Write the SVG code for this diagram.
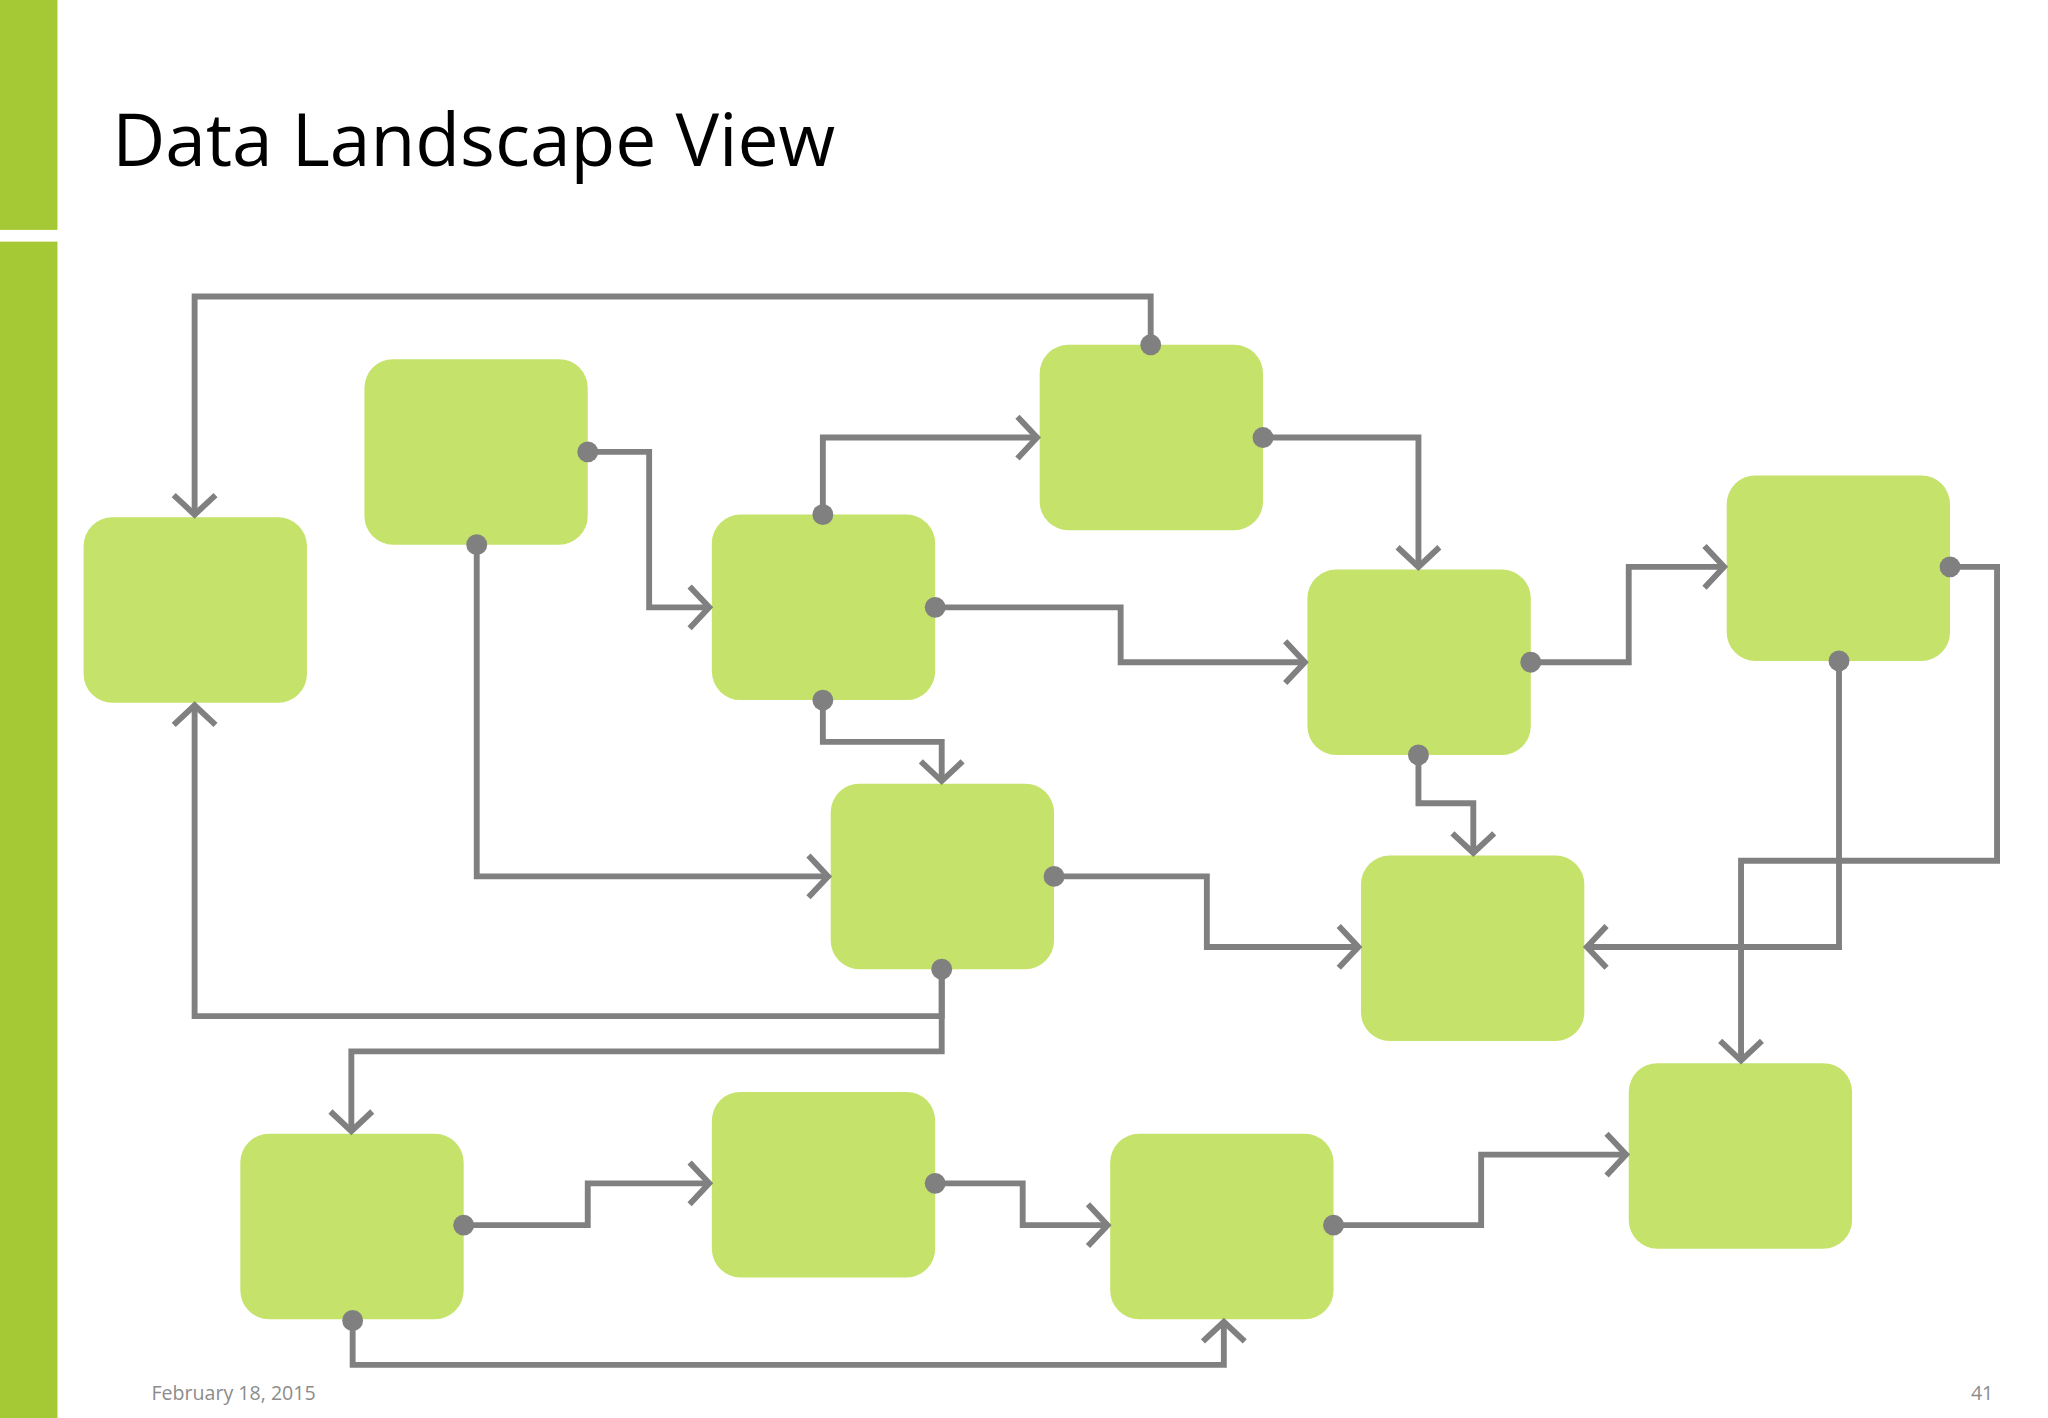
<svg xmlns="http://www.w3.org/2000/svg" width="2048" height="1418" viewBox="0 0 2048 1418">
<style>
.n{fill:#C5E26A}
.c{fill:none;stroke:#808080;stroke-width:4.5;stroke-linejoin:miter;marker-end:url(#ah)}
.d{fill:#808080}
.t{font-family:"Open Sans","Noto Sans",sans-serif}
</style>
<defs>
<marker id="ah" markerUnits="userSpaceOnUse" viewBox="-20 -20 24 40" markerWidth="24" markerHeight="40" refX="0" refY="0" orient="auto">
<path d="M-15,-16 L0,0 L-15,16" fill="none" stroke="#808080" stroke-width="4.5"/>
</marker>
</defs>
<rect width="2048" height="1418" fill="#fff"/>
<g transform="scale(1.30612)">
<rect x="0" y="0" width="44" height="176" fill="#A5C934"/>
<rect x="0" y="185" width="44" height="901" fill="#A5C934"/>
<text class="t" x="86" y="127" font-size="56" fill="#000">Data Landscape View</text>
<text class="t" x="116" y="1072" font-size="15" fill="#8c8c8c">February 18, 2015</text>
<text class="t" x="1509" y="1072" font-size="15" fill="#8c8c8c">41</text>
<g id="nodeA"><rect class="n" x="64" y="396" width="171" height="142" rx="22"/></g>
<g id="nodeB"><rect class="n" x="279" y="275" width="171" height="142" rx="22"/></g>
<g id="nodeC"><rect class="n" x="545" y="394" width="171" height="142" rx="22"/></g>
<g id="nodeD"><rect class="n" x="796" y="264" width="171" height="142" rx="22"/></g>
<g id="nodeE"><rect class="n" x="1001" y="436" width="171" height="142" rx="22"/></g>
<g id="nodeF"><rect class="n" x="1322" y="364" width="171" height="142" rx="22"/></g>
<g id="nodeG"><rect class="n" x="636" y="600" width="171" height="142" rx="22"/></g>
<g id="nodeH"><rect class="n" x="1042" y="655" width="171" height="142" rx="22"/></g>
<g id="nodeI"><rect class="n" x="1247" y="814" width="171" height="142" rx="22"/></g>
<g id="nodeJ"><rect class="n" x="184" y="868" width="171" height="142" rx="22"/></g>
<g id="nodeK"><rect class="n" x="545" y="836" width="171" height="142" rx="22"/></g>
<g id="nodeL"><rect class="n" x="850" y="868" width="171" height="142" rx="22"/></g>
<g id="connectors">
<polyline class="c" points="881,264 881,227 149,227 149,394"/>
<polyline class="c" points="450,346 497,346 497,465 543,465"/>
<polyline class="c" points="365,417 365,671 634,671"/>
<polyline class="c" points="630,394 630,335 794,335"/>
<polyline class="c" points="716,465 858,465 858,507 999,507"/>
<polyline class="c" points="630,536 630,568 721,568 721,598"/>
<polyline class="c" points="967,335 1086,335 1086,434"/>
<polyline class="c" points="1172,507 1247,507 1247,434 1320,434"/>
<polyline class="c" points="1086,578 1086,615 1128,615 1128,653"/>
<polyline class="c" points="1493,434 1529,434 1529,659 1333,659 1333,812"/>
<polyline class="c" points="1408,506 1408,725 1215,725"/>
<polyline class="c" points="807,671 924,671 924,725 1040,725"/>
<polyline class="c" points="721,742 721,778 149,778 149,540"/>
<polyline class="c" points="721,742 721,805 269,805 269,866"/>
<polyline class="c" points="355,938 450,938 450,906 543,906"/>
<polyline class="c" points="716,906 783,906 783,938 848,938"/>
<polyline class="c" points="1021,938 1134,938 1134,884 1245,884"/>
<polyline class="c" points="270,1011 270,1045 937,1045 937,1012"/>
<g class="d">
<circle cx="881" cy="264" r="8"/><circle cx="450" cy="346" r="8"/><circle cx="365" cy="417" r="8"/>
<circle cx="630" cy="394" r="8"/><circle cx="716" cy="465" r="8"/><circle cx="630" cy="536" r="8"/>
<circle cx="967" cy="335" r="8"/><circle cx="1172" cy="507" r="8"/><circle cx="1086" cy="578" r="8"/>
<circle cx="1493" cy="434" r="8"/><circle cx="1408" cy="506" r="8"/><circle cx="807" cy="671" r="8"/>
<circle cx="721" cy="742" r="8"/><circle cx="355" cy="938" r="8"/><circle cx="716" cy="906" r="8"/>
<circle cx="1021" cy="938" r="8"/><circle cx="270" cy="1011" r="8"/>
</g>
</g>
</g>
</svg>
